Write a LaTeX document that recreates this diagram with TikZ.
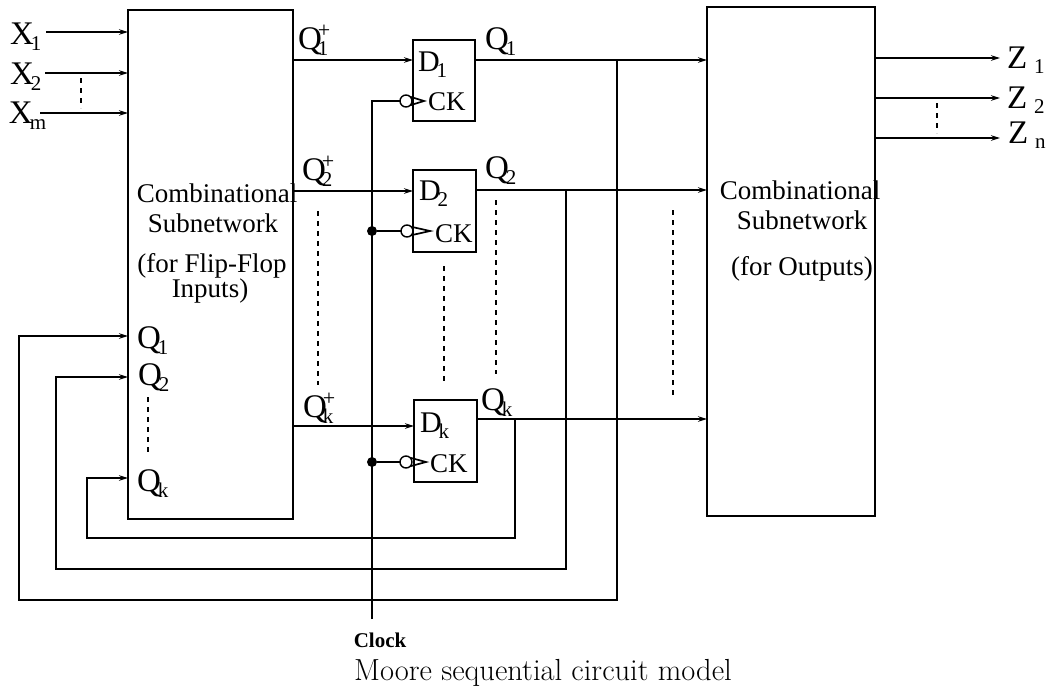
\documentclass[tikz,border=0pt]{standalone}
\usepackage{fontspec}
\usetikzlibrary{arrows.meta}
\newfontfamily\ser{Liberation Serif}
\newcommand{\fsz}[1]{\fontsize{#1}{#1}\selectfont}
\newcommand{\lsub}[2]{#1\kern-3pt\raisebox{-6pt}{\fsz{21}#2}}
\newcommand{\lsubsup}[3]{#1\kern-4pt\rlap{\raisebox{-6pt}{\fsz{21}#2}}\raisebox{12pt}{\fsz{22}#3}}
\tikzset{
  every node/.style={inner sep=0pt,outer sep=0pt},
  blockbox/.style={draw=black,line width=1.3pt,anchor=north west,fill=white},
  sig/.style={draw=black,line width=1.6pt},
  wire/.style={sig,-{Stealth[length=9pt,width=5.5pt]}},
  dashline/.style={draw=black,line width=1.2pt,dash pattern=on 5pt off 5pt},
  bubble/.style={circle,draw=black,line width=1.4pt,minimum size=12pt,fill=white},
  dotj/.style={circle,fill=black,minimum size=10pt},
  tri/.style={draw=black,line width=1.7pt},
  lab/.style={anchor=base west,font=\ser\fsz{33}},
  flab/.style={anchor=base west,font=\ser\fsz{30}},
  cklab/.style={anchor=base west,font=\ser\fsz{27}},
  ctext/.style={anchor=base,font=\ser\fsz{27}}
}
\begin{document}
\begin{tikzpicture}[x=1pt,y=-1pt]
\useasboundingbox (0,0) rectangle (1060,689);
% blocks
\node[blockbox,minimum width=165pt,minimum height=509pt] (cl) at (128,10) {};
\node[blockbox,minimum width=168pt,minimum height=509pt] (cr) at (707,7) {};
\node[blockbox,minimum width=62pt,minimum height=81pt] (ff1) at (413,40) {};
\node[blockbox,minimum width=63pt,minimum height=82pt] (ff2) at (413,170) {};
\node[blockbox,minimum width=63pt,minimum height=82pt] (ffk) at (414,400) {};
% free ends
\coordinate (x1) at (46,32);
\coordinate (x2) at (45,73);
\coordinate (xm) at (40,113);
\coordinate (z1) at (1000,58);
\coordinate (z2) at (1000,98);
\coordinate (zn) at (1000,138);
\coordinate (y1) at (0,60);
\coordinate (y2) at (0,191);
\coordinate (yk) at (0,426);
\coordinate (o1) at (0,60);
\coordinate (o2) at (0,190);
\coordinate (ok) at (0,419);
\coordinate (b1) at (617,60);
\coordinate (b2) at (566,190);
\coordinate (bk) at (515,419);
\coordinate (clkt) at (372,101);
\coordinate (clkb) at (372,619);
% inputs and outputs
\draw[wire] (x1) -- (x1 -| cl.west);
\draw[wire] (x2) -- (x2 -| cl.west);
\draw[wire] (xm) -- (xm -| cl.west);
\draw[wire] (z1 -| cr.east) -- (z1);
\draw[wire] (z2 -| cr.east) -- (z2);
\draw[wire] (zn -| cr.east) -- (zn);
% next state lines
\draw[wire] (y1 -| cl.east) -- (y1 -| ff1.west);
\draw[wire] (y2 -| cl.east) -- (y2 -| ff2.west);
\draw[wire] (yk -| cl.east) -- (yk -| ffk.west);
% present state lines
\draw[wire] (o1 -| ff1.east) -- (o1 -| cr.west);
\draw[wire] (o2 -| ff2.east) -- (o2 -| cr.west);
\draw[wire] (ok -| ffk.east) -- (ok -| cr.west);
% feedback
\draw[wire] (b1) |- (19,600) |- (cl.west |- 0,336);
\draw[wire] (b2) |- (56,569) |- (cl.west |- 0,377);
\draw[wire] (bk) |- (87,538) |- (cl.west |- 0,478);
% clock
\node[bubble] (bu1) at (406,101) {};
\node[bubble] (bu2) at (407,231) {};
\node[bubble] (buk) at (406,462) {};
\node[dotj] (j2) at (372,231) {};
\node[dotj] (jk) at (372,462) {};
\draw[sig] (clkb) -- (clkt) -- (bu1.west);
\draw[sig] (j2) -- (bu2.west);
\draw[sig] (jk) -- (buk.west);
\draw[tri] (bu1.north east) -- (424,101) -- (bu1.south east);
\draw[tri] (bu2.north east) -- (430,231) -- (bu2.south east);
\draw[tri] (buk.north east) -- (426,462) -- (buk.south east);
% dashed
\draw[dashline] (81,78) -- (81,108);
\draw[dashline] (937,103) -- (937,133);
\draw[dashline] (318,211) -- (318,385);
\draw[dashline] (444,266) -- (444,384);
\draw[dashline] (496,200) -- (496,374);
\draw[dashline] (673,210) -- (673,398);
\draw[dashline] (148,397) -- (148,452);
% labels
\node[lab] (tx1) at (10,44) {\lsub{X}{1}};
\node[lab] (tx2) at (10,84) {\lsub{X}{2}};
\node[lab] (txm) at (9,123) {\lsub{X}{m}};
\node[lab] (tp1) at (298,49) {\lsubsup{Q}{1}{+}};
\node[lab] (tp2) at (302,180) {\lsubsup{Q}{2}{+}};
\node[lab] (tpk) at (303,417) {\lsubsup{Q}{k}{+}};
\node[lab] (to1) at (485,49) {\lsub{Q}{1}};
\node[lab] (to2) at (485,178) {\lsub{Q}{2}};
\node[lab] (tok) at (481,410) {\lsub{Q}{k}};
\node[lab] (ti1) at (137,348) {\lsub{Q}{1}};
\node[lab] (ti2) at (138,385) {\lsub{Q}{2}};
\node[lab] (tik) at (137,491) {\lsub{Q}{k}};
\node[flab] (td1) at (418,71) {\lsub{D}{1}};
\node[flab] (td2) at (419,200) {\lsub{D}{2}};
\node[flab] (tdk) at (420,432) {\lsub{D}{k}};
\node[cklab] (tc1) at (428,110) {CK};
\node[cklab] (tc2) at (435,242) {CK};
\node[cklab] (tck) at (430,472) {CK};
\node[lab] (tz1) at (1007,68) {Z\kern7pt\raisebox{-5pt}{\fsz{21}1}};
\node[lab] (tz2) at (1007,108) {Z\kern7pt\raisebox{-5pt}{\fsz{21}2}};
\node[lab] (tzn) at (1008,143) {Z\kern7pt\raisebox{-5pt}{\fsz{21}n}};
\node[ctext] (a1) at (217,202) {Combinational};
\node[ctext] (a2) at (213,232) {Subnetwork};
\node[ctext] (a3) at (212,272) {(for Flip-Flop};
\node[ctext] (a4) at (210,297) {Inputs)};
\node[ctext] (b1t) at (800,199) {Combinational};
\node[ctext] (b2t) at (802,229) {Subnetwork};
\node[ctext] (b3t) at (802,275) {(for Outputs)};
\node[anchor=base,font=\ser\bfseries\fsz{21}] (clk) at (380,647) {Clock};
\node[anchor=base,font=\fsz{30.5}] (cap) at (543,680) {Moore sequential circuit model};
\end{tikzpicture}
\end{document}
